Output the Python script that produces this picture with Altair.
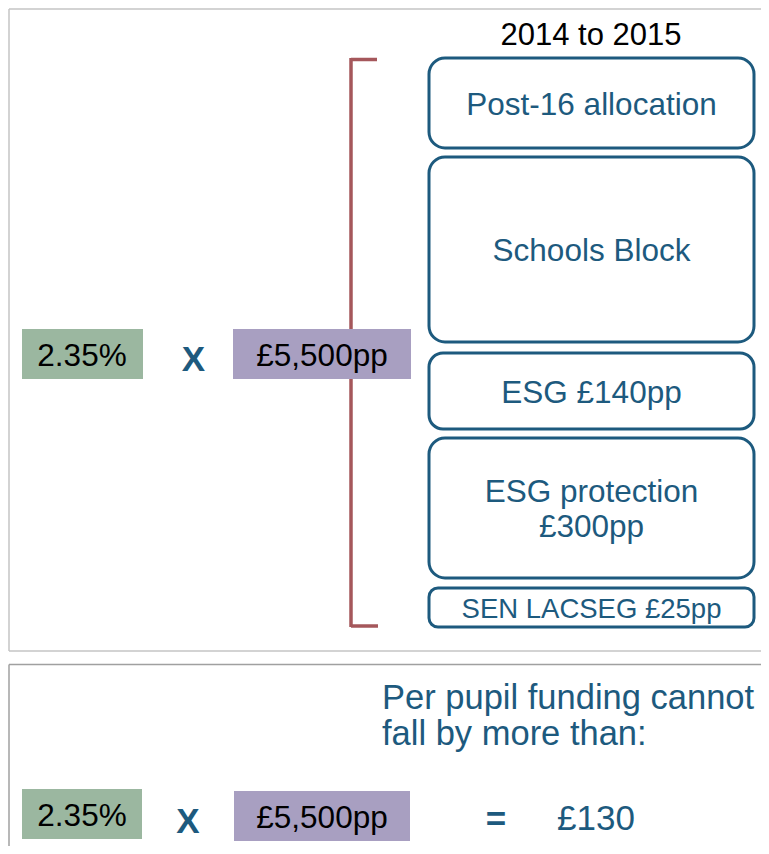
import altair as alt
import pandas as pd

# ---- content ----
period_label = "2014 to 2015"
block_labels = ["Post-16 allocation", "Schools Block", "ESG £140pp",
                "ESG protection\n£300pp", "SEN LACSEG £25pp"]
block_top = [58, 157, 353, 438, 588]
block_bottom = [148, 342, 429, 578, 627]
block_font = [31.5, 31.5, 31.5, 31.5, 27.5]
block_radius = [16, 16, 14, 16, 9]

rate_label = "2.35%"
amount_label = "£5,500pp"
times_label = "X"
equals_label = "="
result_label = "£130"
note_label = "Per pupil funding cannot\nfall by more than:"

BLUE = "#1D5A7E"
RED = "#A5575B"
GREEN = "#9BB7A0"
PURPLE = "#A89FC1"
FONT = "Liberation Sans"

W, H = 753, 838
xs = alt.Scale(domain=[8, 8 + W], nice=False, zero=False)
ys = alt.Scale(domain=[8, 8 + H], nice=False, zero=False, reverse=True)


def X(f="x"):
    return alt.X(f"{f}:Q", scale=xs, axis=None)


def Y(f="y"):
    return alt.Y(f"{f}:Q", scale=ys, axis=None)


def rects(df, **kw):
    return alt.Chart(df).mark_rect(**kw).encode(
        x=X("x"), x2="x2", y=Y("y"), y2="y2")


def texts(df, **kw):
    base = dict(font=FONT, lineBreak="\n")
    base.update(kw)
    return alt.Chart(df).mark_text(**base).encode(
        x=X("x"), y=Y("y"), text="label:N")


# panel frames (top, left, bottom edges of upper panel; top, left of lower panel)
frame = pd.DataFrame({
    "x": [9, 9, 9, 9, 9],
    "x2": [761, 9, 761, 761, 9],
    "y": [9, 9, 651, 664.5, 664.5],
    "y2": [9, 651, 651, 664.5, 846],
    "c": ["#C4C4C4", "#C4C4C4", "#C4C4C4", "#A0A0A0", "#A0A0A0"],
})
panel_layer = alt.Chart(frame).mark_rule(strokeWidth=1.5).encode(
    x=X("x"), x2="x2", y=Y("y"), y2="y2",
    color=alt.Color("c:N", scale=None))

# bracket
br = pd.DataFrame({"x": [351, 351, 351], "x2": [351, 377, 378],
                   "y": [58, 59.5, 626], "y2": [627, 59.5, 626]})
bracket = alt.Chart(br).mark_rule(color=RED, strokeWidth=3.5).encode(
    x=X("x"), x2="x2", y=Y("y"), y2="y2")

# funding blocks
LH = 35
blocks = pd.DataFrame({"label": block_labels, "y": block_top, "y2": block_bottom,
                       "fs": block_font, "r": block_radius})
blocks["x"] = 429
blocks["x2"] = 754
blocks["cy"] = (blocks["y"] + blocks["y2"]) / 2
block_layers = []
for _, row in blocks.iterrows():
    d = pd.DataFrame([row])
    block_layers.append(rects(d, fill="white", stroke=BLUE, strokeWidth=3,
                              cornerRadius=int(row["r"])))
    nlines = row["label"].count("\n") + 1
    ty = row["cy"] - (nlines - 1) * LH / 2
    td = pd.DataFrame({"label": [row["label"]], "x": [591.5], "y": [ty]})
    block_layers.append(texts(td, fontSize=float(row["fs"]), color=BLUE,
                              baseline="middle", lineHeight=LH, dy=2.5))

# coloured factor boxes
green = pd.DataFrame({"x": [22, 22], "x2": [143, 142], "y": [329, 789], "y2": [379, 839]})
purple = pd.DataFrame({"x": [233, 234], "x2": [411, 410], "y": [329, 791], "y2": [379, 841]})
green_layer = rects(green, color=GREEN)
purple_layer = rects(purple, color=PURPLE)

factor_txt = pd.DataFrame({"label": [rate_label, amount_label, rate_label, amount_label],
                           "x": [82, 322, 82, 322], "y": [355, 355, 815, 817]})
factor_layer = texts(factor_txt, fontSize=31.5, color="black", baseline="middle", dy=2)

op_txt = pd.DataFrame({"label": [times_label, times_label, equals_label],
                       "x": [193.5, 188, 496], "y": [360, 822, 820]})
op_layer = texts(op_txt, fontSize=35, fontWeight="bold", color=BLUE, baseline="middle")

res_txt = pd.DataFrame({"label": [result_label], "x": [596], "y": [819]})
res_layer = texts(res_txt, fontSize=35, color=BLUE, baseline="middle")

note_txt = pd.DataFrame({"label": [note_label], "x": [382], "y": [709]})
note_layer = texts(note_txt, fontSize=34.5, color=BLUE, align="left",
                   baseline="alphabetic", lineHeight=36)

period_txt = pd.DataFrame({"label": [period_label], "x": [591], "y": [45]})
period_layer = texts(period_txt, fontSize=31, color="black", baseline="alphabetic")

chart = alt.layer(
    panel_layer, bracket, *block_layers, green_layer, purple_layer,
    factor_layer, op_layer, res_layer, note_layer, period_layer
).properties(
    width=W, height=H, padding=0, autosize=alt.AutoSizeParams(type="none")
).configure_view(strokeWidth=0)

chart.save("out.html", embed_options={"renderer": "svg", "actions": False})
